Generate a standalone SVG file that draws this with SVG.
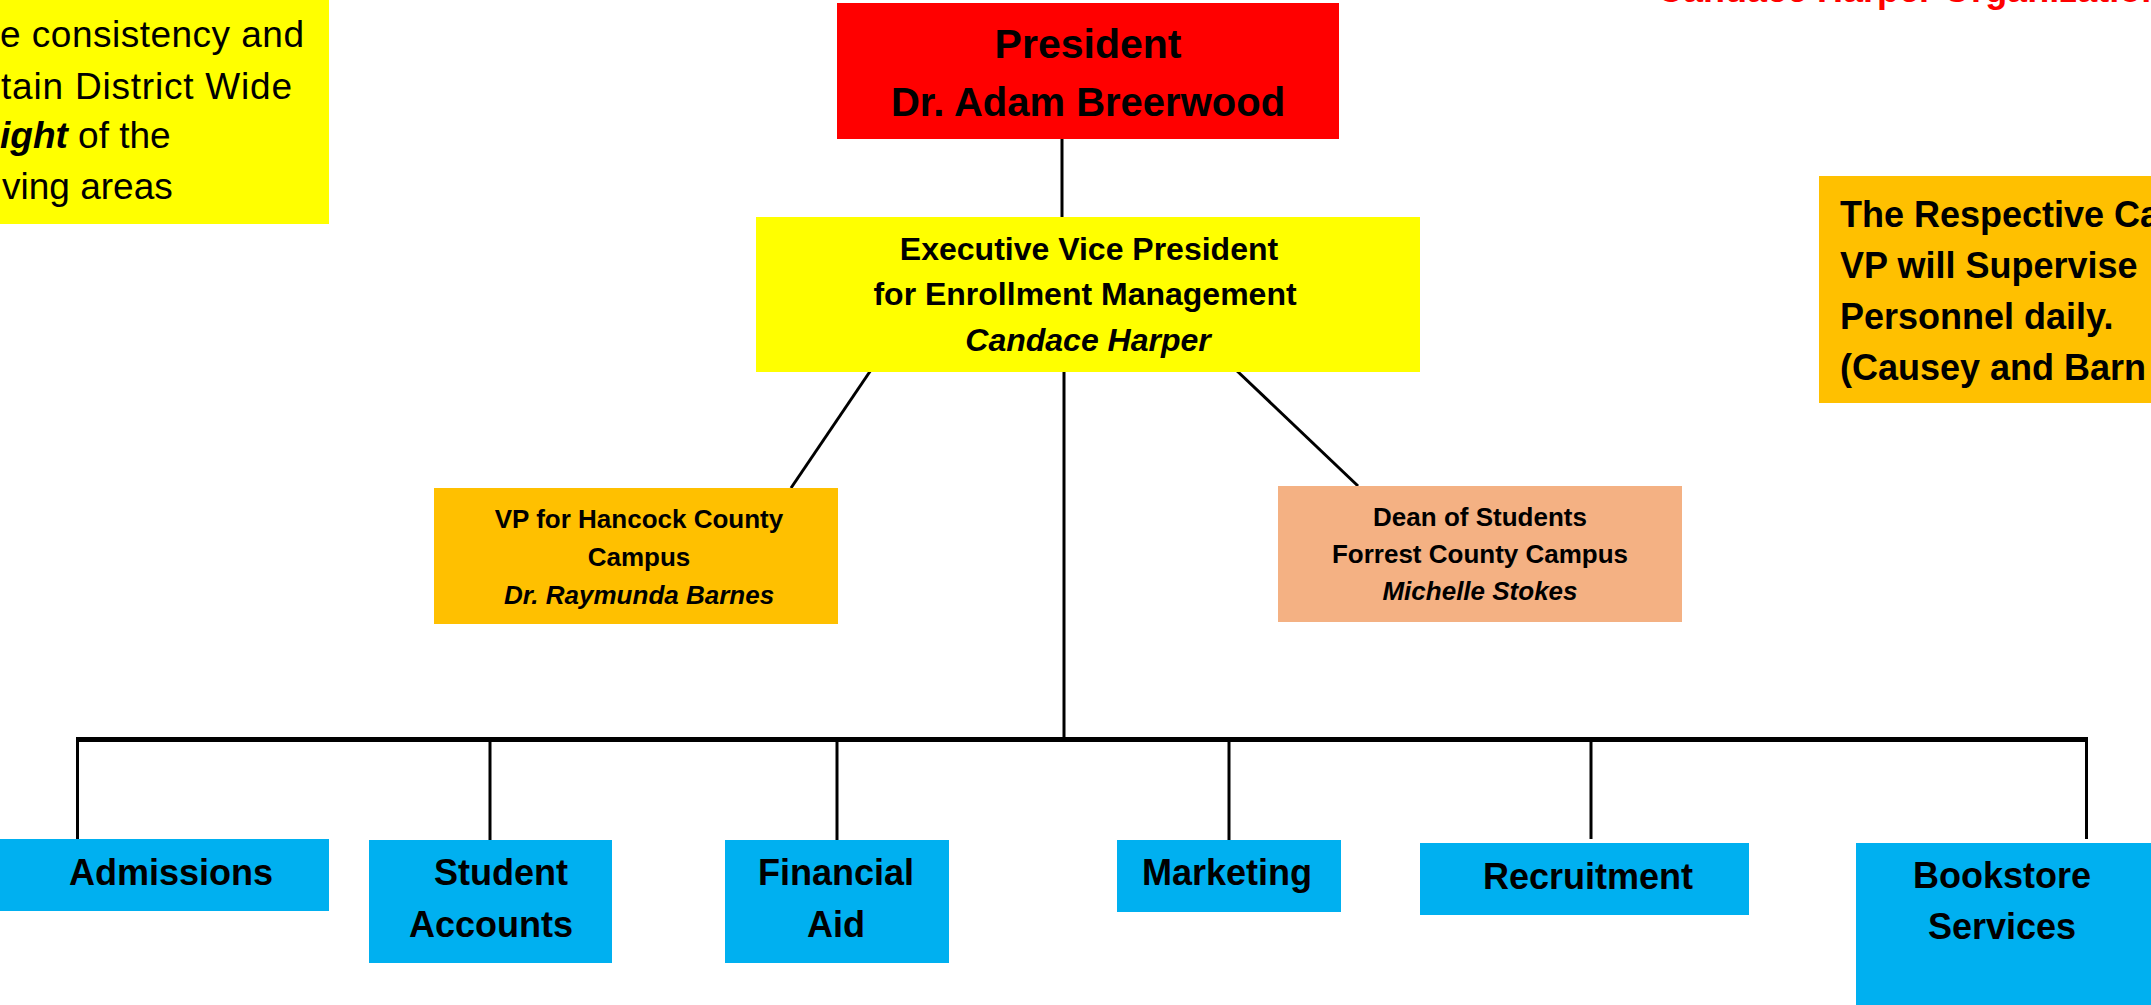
<svg xmlns="http://www.w3.org/2000/svg" width="2151" height="1005" viewBox="0 0 2151 1005">
<style>
text{font-family:"Liberation Sans",Arial,sans-serif;fill:#000;}
.b{font-weight:bold;}
.i{font-style:italic;}
.c{text-anchor:middle;}
.ln{stroke:#000;stroke-width:3;fill:none;}
.bus{stroke:#000;stroke-width:5;fill:none;}
.blue{fill:#00B0F0;}
</style>
<rect width="2151" height="1005" fill="#fff"/>
<g id="connectors">
<line class="ln" x1="1062" y1="139" x2="1062" y2="217"/>
<line class="ln" x1="1064" y1="372" x2="1064" y2="739"/>
<line class="ln" x1="873" y1="367" x2="791" y2="488"/>
<line class="ln" x1="1235" y1="369" x2="1358" y2="486"/>
<line class="bus" x1="76" y1="739.5" x2="2088" y2="739.5"/>
<line class="ln" x1="77.5" y1="738" x2="77.5" y2="839"/>
<line class="ln" x1="490" y1="740" x2="490" y2="840"/>
<line class="ln" x1="837" y1="740" x2="837" y2="840"/>
<line class="ln" x1="1229" y1="740" x2="1229" y2="840"/>
<line class="ln" x1="1591" y1="740" x2="1591" y2="839"/>
<line class="ln" x1="2086.5" y1="738" x2="2086.5" y2="839"/>
</g>
<g id="title">
<text class="b" x="1657" y="1.5" font-size="36" style="fill:#FF0000">Candace Harper Organizational Chart</text>
</g>
<g id="note-left">
<rect x="0" y="0" width="329" height="224" fill="#FFFF00"/>
<text x="0" y="47" font-size="37" textLength="304">e consistency and</text>
<text x="1" y="99" font-size="37" textLength="291">tain District Wide</text>
<text x="0" y="148" font-size="37"><tspan class="b i">ight</tspan> of the</text>
<text x="2" y="199" font-size="37">ving areas</text>
</g>
<g id="note-right">
<rect x="1819" y="176" width="332" height="227" fill="#FFC000"/>
<text class="b" x="1840" y="227" font-size="36">The Respective Ca</text>
<text class="b" x="1840" y="278" font-size="36">VP will Supervise</text>
<text class="b" x="1840" y="329" font-size="36">Personnel daily.</text>
<text class="b" x="1840" y="380" font-size="36">(Causey and Barn</text>
</g>
<g id="president">
<rect x="837" y="3" width="502" height="136" fill="#FF0000"/>
<text class="b c" x="1088" y="58" font-size="41">President</text>
<text class="b c" x="1088" y="116" font-size="40">Dr. Adam Breerwood</text>
</g>
<g id="evp">
<rect x="756" y="217" width="664" height="155" fill="#FFFF00"/>
<text class="b c" x="1089" y="260" font-size="32">Executive Vice President</text>
<text class="b c" x="1085" y="305" font-size="32">for Enrollment Management</text>
<text class="b i c" x="1088" y="351" font-size="32">Candace Harper</text>
</g>
<g id="vp-hancock">
<rect x="434" y="488" width="404" height="136" fill="#FFC000"/>
<text class="b c" x="639" y="528" font-size="26">VP for Hancock County</text>
<text class="b c" x="639" y="566" font-size="26">Campus</text>
<text class="b i c" x="639" y="604" font-size="26">Dr. Raymunda Barnes</text>
</g>
<g id="dean">
<rect x="1278" y="486" width="404" height="136" fill="#F4B183"/>
<text class="b c" x="1480" y="526" font-size="26">Dean of Students</text>
<text class="b c" x="1480" y="563" font-size="26">Forrest County Campus</text>
<text class="b i c" x="1480" y="600" font-size="26">Michelle Stokes</text>
</g>
<g id="admissions">
<rect class="blue" x="0" y="839" width="329" height="72"/>
<text class="b c" x="171" y="885" font-size="36">Admissions</text>
</g>
<g id="student-accounts">
<rect class="blue" x="369" y="840" width="243" height="123"/>
<text class="b c" x="501" y="885" font-size="36">Student</text>
<text class="b c" x="491" y="937" font-size="36">Accounts</text>
</g>
<g id="financial-aid">
<rect class="blue" x="725" y="840" width="224" height="123"/>
<text class="b c" x="836" y="885" font-size="36">Financial</text>
<text class="b c" x="836" y="937" font-size="36">Aid</text>
</g>
<g id="marketing">
<rect class="blue" x="1117" y="840" width="224" height="72"/>
<text class="b c" x="1227" y="885" font-size="36">Marketing</text>
</g>
<g id="recruitment">
<rect class="blue" x="1420" y="843" width="329" height="72"/>
<text class="b c" x="1588" y="889" font-size="36">Recruitment</text>
</g>
<g id="bookstore">
<rect class="blue" x="1856" y="843" width="295" height="162"/>
<text class="b c" x="2002" y="888" font-size="36">Bookstore</text>
<text class="b c" x="2002" y="939" font-size="36">Services</text>
</g>
</svg>
